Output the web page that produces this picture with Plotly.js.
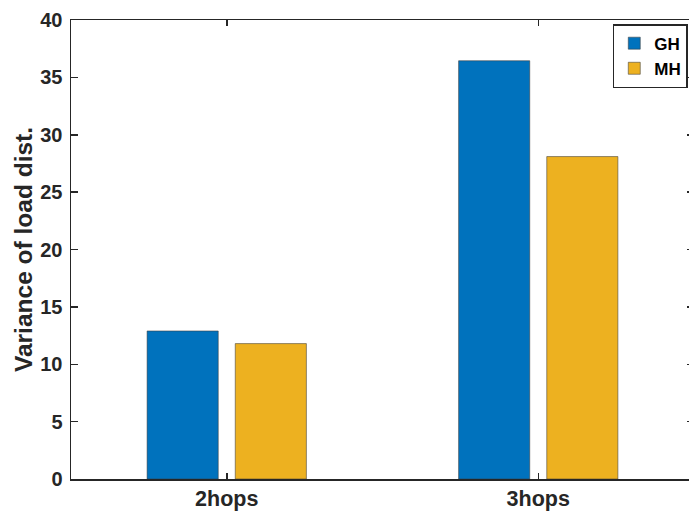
<!DOCTYPE html>
<html>
<head>
<meta charset="utf-8">
<script src="https://cdn.plot.ly/plotly-3.0.1.min.js"></script>
<style>
html, body { margin: 0; padding: 0; overflow: hidden; background: #fff; }
#chart { width: 700px; height: 515px; }
</style>
</head>
<body>
<div id="chart"></div>
<script>
const categories = ["2hops", "3hops"];
const ghValues = [12.9, 36.45];
const mhValues = [11.8, 28.1];
const seriesNames = ["GH", "MH"];
const yTicks = [0, 5, 10, 15, 20, 25, 30, 35, 40];

const fontFam = "Liberation Sans, Arial, Helvetica, sans-serif";
const axisColor = "#262626";

const traces = [
  {
    type: "bar", name: seriesNames[0], x: categories, y: ghValues,
    marker: { color: "#0072BD", line: { color: "rgba(60,60,60,0.55)", width: 1 } }
  },
  {
    type: "bar", name: seriesNames[1], x: categories, y: mhValues,
    marker: { color: "#EDB120", line: { color: "rgba(60,60,60,0.55)", width: 1 } }
  }
];

const layout = {
  width: 700, height: 515,
  margin: { l: 71, r: 6, t: 20, b: 36, pad: 0 },
  paper_bgcolor: "#ffffff", plot_bgcolor: "#ffffff",
  barmode: "group", bargap: 0.434, bargroupgap: 0.193,
  font: { family: fontFam, color: axisColor },
  showlegend: true,
  legend: {
    x: 0.990, xanchor: "right", y: 0.991, yanchor: "top",
    bgcolor: "#ffffff", bordercolor: axisColor, borderwidth: 1.5,
    font: { family: fontFam, size: 17, color: "#000", weight: "bold" },
    tracegroupgap: 0, itemwidth: 30
  },
  xaxis: {
    type: "category", showline: true, linecolor: axisColor, linewidth: 1.5,
    mirror: "ticks", ticks: "inside", ticklen: 6, tickcolor: axisColor, tickwidth: 1.5,
    showgrid: false, zeroline: false,
    tickfont: { family: fontFam, size: 21.5, color: axisColor, weight: "bold" }
  },
  yaxis: {
    range: [0, 40], tickvals: yTicks, ticktext: yTicks.map(String),
    showline: true, linecolor: axisColor, linewidth: 1.5,
    mirror: "ticks", ticks: "inside", ticklen: 7, tickcolor: axisColor, tickwidth: 1.5,
    showgrid: false, zeroline: false, ticklabelstandoff: 3,
    tickfont: { family: fontFam, size: 20, color: axisColor, weight: "bold" },
    title: { text: "Variance of load dist.", standoff: 0,
             font: { family: fontFam, size: 24.5, color: axisColor, weight: "bold" } }
  }
};

Plotly.newPlot("chart", traces, layout, { displayModeBar: false, staticPlot: true });
</script>
</body>
</html>
